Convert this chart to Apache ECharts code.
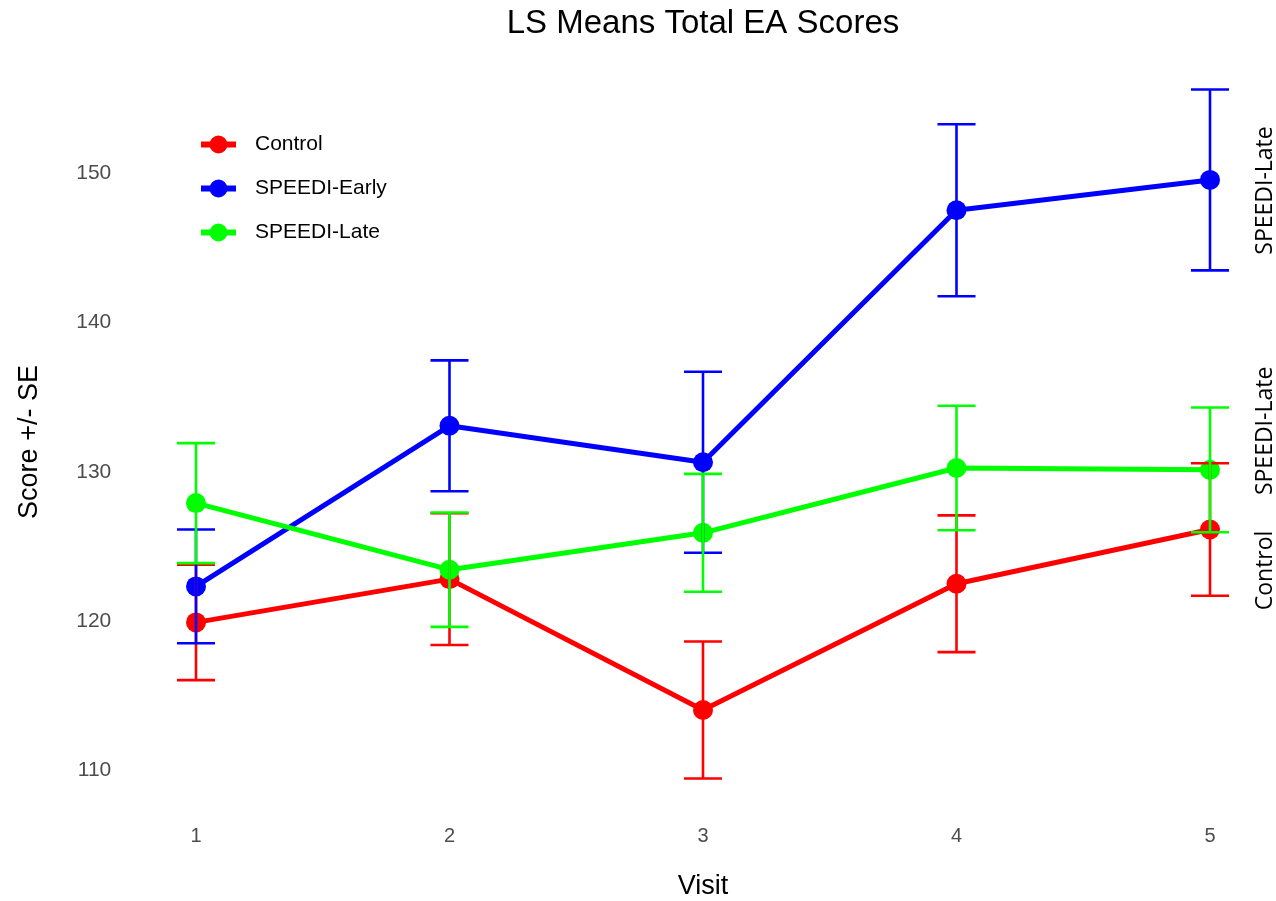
<!DOCTYPE html>
<html>
<head>
<meta charset="utf-8">
<title>LS Means Total EA Scores</title>
<script src="https://cdn.jsdelivr.net/npm/echarts@6/dist/echarts.min.js"></script>
<style>
  html, body { margin: 0; padding: 0; background: #ffffff; }
  #chart { width: 1276px; height: 901px; }
</style>
</head>
<body>
<div id="chart"></div>
<script>
// Visits on the x axis
const visits = [1, 2, 3, 4, 5];

// LS means and standard errors per group
const controlMean = [119.92, 122.82, 114.05, 122.51, 126.14];
const controlSE   = [3.87, 4.41, 4.59, 4.58, 4.44];
const earlyMean   = [122.33, 133.09, 130.65, 147.53, 149.56];
const earlySE     = [3.81, 4.38, 6.06, 5.76, 6.06];
const lateMean    = [127.91, 123.45, 125.92, 130.26, 130.14];
const lateSE      = [4.02, 3.83, 3.95, 4.17, 4.18];

const groupNames  = ['Control', 'SPEEDI-Early', 'SPEEDI-Late'];
const groupColors = ['#ff0000', '#0000ff', '#00ff00'];

// Tick labels
const yTicks = [110, 120, 130, 140, 150];

// Margin labels on the right edge: text and the score each one sits beside
const sideLabels = ['SPEEDI-Late', 'SPEEDI-Late', 'Control'];
const sideLabelScores = [148.85, 132.75, 123.4];

const groups = [
  { mean: controlMean, se: controlSE },
  { mean: earlyMean, se: earlySE },
  { mean: lateMean, se: lateSE }
];

// Axis ranges padded by 5% on each side
let lo = Infinity, hi = -Infinity;
groups.forEach(g => g.mean.forEach((m, i) => {
  lo = Math.min(lo, m - g.se[i]);
  hi = Math.max(hi, m + g.se[i]);
}));
const yPad = (hi - lo) * 0.05;
const yMin = lo - yPad, yMax = hi + yPad;
const xPad = (visits[visits.length - 1] - visits[0]) * 0.05;
const xMin = visits[0] - xPad, xMax = visits[visits.length - 1] + xPad;

// Legend key: a thick line segment with a dot in the middle
const legendKey = 'path://M0,6 L35,6 L35,12 L0,12 Z M8.5,9 A9,9 0 1,1 26.5,9 A9,9 0 1,1 8.5,9 Z';

const chart = echarts.init(document.getElementById('chart'), null, { renderer: 'canvas' });

const lineSeries = groups.map((g, k) => ({
  name: groupNames[k],
  type: 'line',
  data: visits.map((v, i) => [v, g.mean[i]]),
  symbol: 'circle',
  symbolSize: 20,
  showSymbol: true,
  lineStyle: { color: groupColors[k], width: 5 },
  itemStyle: { color: groupColors[k] },
  emphasis: { disabled: true },
  animation: false,
  z: 2
}));

const errorSeries = groups.map((g, k) => ({
  name: groupNames[k] + ' SE',
  type: 'custom',
  data: visits.map((v, i) => [v, g.mean[i] - g.se[i], g.mean[i] + g.se[i]]),
  encode: { x: 0, y: [1, 2] },
  renderItem: function (params, api) {
    const x = api.value(0);
    const pLo = api.coord([x, api.value(1)]);
    const pHi = api.coord([x, api.value(2)]);
    const half = api.size([0.15, 0])[0] / 2;
    const style = { stroke: groupColors[k], lineWidth: 2.6, fill: null };
    return {
      type: 'group',
      children: [
        { type: 'line', shape: { x1: pLo[0], y1: pLo[1], x2: pHi[0], y2: pHi[1] }, style: style },
        { type: 'line', shape: { x1: pLo[0] - half, y1: pLo[1], x2: pLo[0] + half, y2: pLo[1] }, style: style },
        { type: 'line', shape: { x1: pHi[0] - half, y1: pHi[1], x2: pHi[0] + half, y2: pHi[1] }, style: style }
      ]
    };
  },
  animation: false,
  silent: true,
  z: 3
}));

const option = {
  backgroundColor: '#ffffff',
  animation: false,
  grid: { left: 145.3, right: 15.3, top: 55, bottom: 88 },
  legend: {
    data: groupNames.map((n, k) => ({ name: n, icon: legendKey, itemStyle: { color: groupColors[k] } })),
    orient: 'vertical',
    left: 196,
    top: 129,
    itemWidth: 35,
    itemHeight: 18,
    itemGap: 23,
    selectedMode: false,
    textStyle: {
      fontFamily: 'Liberation Sans',
      fontSize: 21,
      color: '#000000',
      padding: [0, 0, 0, 14]
    }
  },
  xAxis: {
    type: 'value',
    min: xMin,
    max: xMax,
    axisLine: { show: false },
    axisTick: { show: false },
    splitLine: { show: false },
    axisLabel: {
      customValues: visits,
      margin: 13,
      fontFamily: 'Liberation Sans',
      fontSize: 20,
      color: '#4d4d4d'
    }
  },
  yAxis: {
    type: 'value',
    min: yMin,
    max: yMax,
    axisLine: { show: false },
    axisTick: { show: false },
    splitLine: { show: false },
    axisLabel: {
      customValues: yTicks,
      margin: 34,
      fontFamily: 'Liberation Sans',
      fontSize: 21,
      color: '#4d4d4d'
    }
  },
  series: lineSeries.concat(errorSeries)
};

chart.setOption(option);

// Titles and right-edge margin labels
const plotCenterX = chart.convertToPixel({ xAxisIndex: 0 }, (xMin + xMax) / 2);
const plotCenterY = chart.convertToPixel({ yAxisIndex: 0 }, (yMin + yMax) / 2);
const graphics = [
  {
    type: 'text', x: plotCenterX, y: 24,
    style: { text: 'LS Means Total EA Scores', fontFamily: 'Liberation Sans', fontSize: 33,
             fill: '#000000', align: 'center', verticalAlign: 'middle' }
  },
  {
    type: 'text', x: plotCenterX, y: 887,
    style: { text: 'Visit', fontFamily: 'Liberation Sans', fontSize: 27,
             fill: '#000000', align: 'center', verticalAlign: 'middle' }
  },
  {
    type: 'text', x: 30, y: plotCenterY + 8, rotation: Math.PI / 2,
    style: { text: 'Score +/- SE', fontFamily: 'Liberation Sans', fontSize: 27,
             fill: '#000000', align: 'center', verticalAlign: 'middle' }
  }
];
sideLabels.forEach((t, i) => {
  graphics.push({
    type: 'text', x: 1265, y: chart.convertToPixel({ yAxisIndex: 0 }, sideLabelScores[i]),
    rotation: Math.PI / 2,
    style: { text: t, fontFamily: 'Open Sans', fontSize: 23,
             fill: '#000000', align: 'center', verticalAlign: 'middle' }
  });
});
chart.setOption({ graphic: graphics });
</script>
</body>
</html>
